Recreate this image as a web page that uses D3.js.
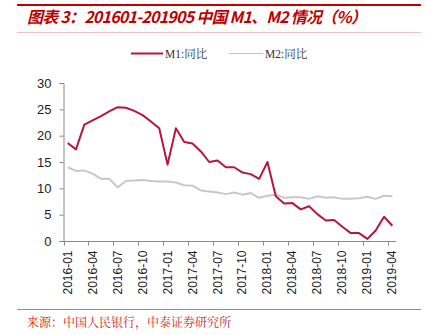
<!DOCTYPE html>
<html><head><meta charset="utf-8">
<script src="https://cdn.jsdelivr.net/npm/d3@7"></script>
<style>body{margin:0;background:#fff}svg{display:block}</style>
</head><body>
<svg id="c" width="427" height="335"></svg>
<script>
const months = [];
for (let y = 2016; y <= 2019; y++) for (let m = 1; m <= 12; m++) {
  if (y === 2019 && m > 4) break;
  months.push(y + "-" + String(m).padStart(2, "0"));
}
const m1 = [18.6,17.4,22.1,22.9,23.7,24.6,25.4,25.3,24.7,23.9,22.7,21.4,
            14.5,21.4,18.8,18.5,17.0,15.0,15.3,14.0,14.0,13.0,12.7,11.8,
            15.0,8.5,7.1,7.2,6.0,6.6,5.1,3.9,4.0,2.7,1.5,1.5,
            0.4,2.0,4.6,2.9];
const m2 = [14.0,13.3,13.4,12.8,11.8,11.8,10.2,11.4,11.5,11.6,11.4,11.3,
            11.3,11.1,10.6,10.5,9.6,9.4,9.2,8.9,9.2,8.8,9.1,8.2,
            8.6,8.8,8.2,8.3,8.3,8.0,8.5,8.2,8.3,8.0,8.0,8.1,
            8.4,8.0,8.6,8.5];
const yTicks = [0,5,10,15,20,25,30];
const seriesNames = ["M1:同比", "M2:同比"];
const titleText = "图表 3：201601-201905 中国 M1、M2 情况（%）";
const sourceText = "来源：中国人民银行，中泰证券研究所";

const svg = d3.select("#c");
// header decorations
svg.append("line").attr("x1",17).attr("x2",421).attr("y1",5).attr("y2",5)
  .attr("stroke","#c00000").attr("stroke-width",2);
svg.append("text").attr("x",27).attr("y",23).text(titleText)
  .attr("fill","#c00000").attr("font-size",16).attr("font-style","italic").attr("font-weight","bold")
  .attr("textLength",340).attr("lengthAdjust","spacing")
  .attr("font-family","'Noto Sans CJK SC', sans-serif");
svg.append("line").attr("x1",17).attr("x2",421).attr("y1",32.5).attr("y2",32.5)
  .attr("stroke","#f0c0c0").attr("stroke-width",1);
svg.append("line").attr("x1",17).attr("x2",421).attr("y1",309.5).attr("y2",309.5)
  .attr("stroke","#e07070").attr("stroke-width",1);
svg.append("text").attr("x",27).attr("y",327).text(sourceText)
  .attr("fill","#d02020").attr("font-size",12)
  .attr("font-family","'Noto Serif CJK SC','Noto Sans CJK SC', serif");

const x = d3.scaleBand().domain(months).range([63.5, 396.5]).padding(0);
const y = d3.scaleLinear().domain([0,30]).range([241, 83]);

// y axis
const yAxis = d3.axisLeft(y).tickValues(yTicks).tickSize(4).tickPadding(8);
const gy = svg.append("g").attr("transform","translate(63.5,0)").call(yAxis);
gy.select(".domain").attr("stroke","#888");
gy.selectAll(".tick line").attr("stroke","#888");
gy.selectAll("text").attr("font-family","Arial, 'Liberation Sans', sans-serif")
  .attr("font-size",13).attr("fill","#222");

// x axis: ticks at band boundaries every 3 months, labels at band centers
const gx = svg.append("g").attr("transform","translate(0,241.5)");
gx.append("line").attr("x1",63.5).attr("x2",396).attr("stroke","#888");
const tickMonths = months.filter((d,i) => i % 3 === 0);
gx.selectAll("line.t").data(tickMonths).join("line").attr("class","t")
  .attr("x1",d => Math.round(x(d))+0.5).attr("x2",d => Math.round(x(d))+0.5)
  .attr("y1",0).attr("y2",4).attr("stroke","#888");
gx.selectAll("text").data(tickMonths).join("text")
  .attr("transform",d => `translate(${x(d)+x.bandwidth()/2+4},9) rotate(-90)`)
  .attr("text-anchor","end")
  .attr("font-family","Arial, 'Liberation Sans', sans-serif")
  .attr("font-size",12).attr("fill","#222")
  .text(d => d);

// lines
const line = d3.line().x((d,i) => x(months[i]) + x.bandwidth()/2).y(d => y(d));
svg.append("path").datum(m2).attr("d",line).attr("fill","none")
  .attr("stroke","#c8c8c8").attr("stroke-width",2).attr("stroke-linejoin","round");
svg.append("path").datum(m1).attr("d",line).attr("fill","none")
  .attr("stroke","#b7163f").attr("stroke-width",2).attr("stroke-linejoin","round");

// legend
const leg = [{x1:131,x2:163,c:"#b7163f",w:2,n:seriesNames[0]},{x1:229,x2:263,c:"#c0c0c0",w:1,n:seriesNames[1]}];
leg.forEach(l => {
  svg.append("line").attr("x1",l.x1).attr("x2",l.x2).attr("y1",53.5).attr("y2",53.5)
    .attr("stroke",l.c).attr("stroke-width",l.w);
  svg.append("text").attr("x",l.x2+2).attr("y",57.5).text(l.n)
    .attr("font-size",11.5).attr("fill","#333")
    .attr("font-family","'Liberation Serif','Noto Serif CJK SC', serif");
});
</script>
</body></html>
